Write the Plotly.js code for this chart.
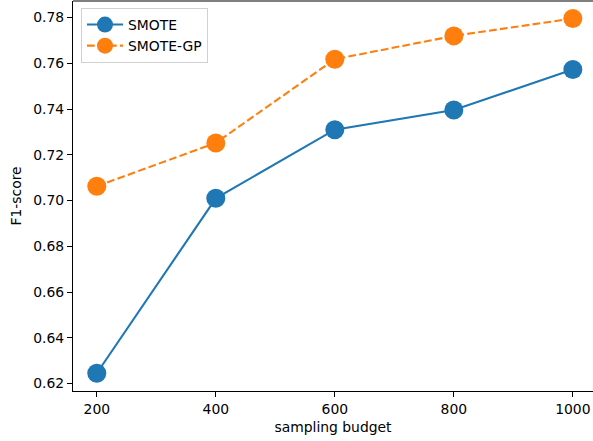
<!DOCTYPE html>
<html>
<head>
<meta charset="utf-8">
<script src="https://cdn.plot.ly/plotly-3.0.1.min.js"></script>
<style>html,body{margin:0;padding:0;background:#fff;}#chart{width:593px;height:441px;}</style>
</head>
<body>
<div id="chart"></div>
<script>
const budgets = [200, 400, 600, 800, 1000];
const smote = [0.6245, 0.7010, 0.7310, 0.7396, 0.7573];
const smoteGP = [0.7063, 0.7252, 0.7618, 0.7720, 0.7796];
const yTicks = [0.62, 0.64, 0.66, 0.68, 0.70, 0.72, 0.74, 0.76, 0.78];
const xTicks = [200, 400, 600, 800, 1000];

const font = {family: 'DejaVu Sans', size: 13.9, color: '#000'};
const traces = [
  {x: budgets, y: smote, name: 'SMOTE', mode: 'lines+markers', type: 'scatter',
   line: {color: '#1f77b4', width: 2.1}, marker: {color: '#1f77b4', size: 19}},
  {x: budgets, y: smoteGP, name: 'SMOTE-GP', mode: 'lines+markers', type: 'scatter',
   line: {color: '#ff7f0e', width: 2.1, dash: '7.7px,3.3px'}, marker: {color: '#ff7f0e', size: 19}}
];
const layout = {
  width: 593, height: 441,
  margin: {l: 73, r: 0, t: 1, b: 50},
  paper_bgcolor: '#fff', plot_bgcolor: '#fff',
  font: font,
  showlegend: true,
  legend: {x: 0.0154, y: 0.982, xanchor: 'left', yanchor: 'top', bgcolor: 'rgba(255,255,255,0.8)',
           bordercolor: '#d0d0d0', borderwidth: 1, font: font, itemwidth: 36, tracegroupgap: 0},
  xaxis: {range: [160, 1033.9], tickvals: xTicks, ticktext: xTicks.map(String),
          showgrid: false, zeroline: false, showline: true, linecolor: '#000', linewidth: 1.1,
          ticks: 'outside', ticklen: 5, tickwidth: 1.1, tickcolor: '#000',
          title: {text: 'sampling budget', font: font, standoff: 6}},
  yaxis: {range: [0.61675, 0.78725], tickvals: yTicks, ticktext: yTicks.map(v => v.toFixed(2)),
          showgrid: false, zeroline: false, showline: true, linecolor: '#000', linewidth: 1.1,
          ticks: 'outside', ticklen: 5, tickwidth: 1.1, tickcolor: '#000',
          title: {text: 'F1-score', font: font, standoff: 8}},
  shapes: [{type: 'line', xref: 'paper', yref: 'paper', x0: 0, x1: 1, y0: 1, y1: 1,
            line: {color: '#000', width: 1.1}}]
};
Plotly.newPlot('chart', traces, layout, {displayModeBar: false, staticPlot: true});
</script>
</body>
</html>
